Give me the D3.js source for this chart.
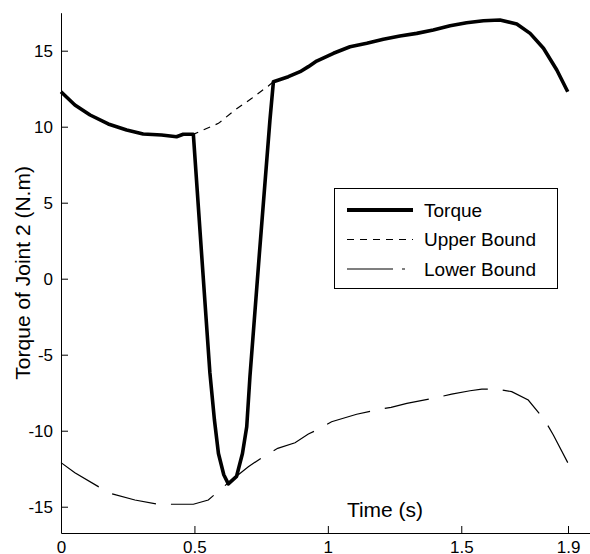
<!DOCTYPE html>
<html>
<head>
<meta charset="utf-8">
<script src="https://cdn.jsdelivr.net/npm/d3@7"></script>
<style>
  html, body { margin: 0; padding: 0; background: #fff; }
  svg { display: block; font-family: "Liberation Sans", Arial, Helvetica, sans-serif; }
</style>
</head>
<body>
<svg id="chart" width="590" height="554"></svg>
<script>
// ---- Data ----
const torqueTime  = [0, 0.052, 0.109, 0.177, 0.246, 0.308, 0.377, 0.433, 0.458, 0.496, 0.527, 0.558, 0.575, 0.590, 0.610, 0.627, 0.658, 0.680, 0.696, 0.708, 0.745, 0.783, 0.796, 0.852, 0.896, 0.927, 0.958, 1.021, 1.083, 1.146, 1.208, 1.270, 1.333, 1.395, 1.458, 1.520, 1.583, 1.645, 1.708, 1.758, 1.808, 1.858, 1.899];
const torqueValue = [12.3, 11.43, 10.77, 10.18, 9.78, 9.52, 9.45, 9.34, 9.5, 9.5, 1.6, -6.2, -9.3, -11.5, -12.9, -13.5, -13.0, -11.5, -9.74, -6.45, 2.0, 10.44, 12.96, 13.29, 13.62, 13.95, 14.32, 14.83, 15.26, 15.49, 15.75, 15.97, 16.14, 16.36, 16.64, 16.84, 16.97, 17.02, 16.76, 16.14, 15.16, 13.73, 12.3];

const upperTime  = [0, 0.052, 0.109, 0.177, 0.246, 0.308, 0.377, 0.433, 0.458, 0.496, 0.590, 0.652, 0.715, 0.777, 0.796, 0.852, 0.896, 0.927, 0.958, 1.021, 1.083, 1.146, 1.208, 1.270, 1.333, 1.395, 1.458, 1.520, 1.583, 1.645, 1.708, 1.758, 1.808, 1.858, 1.899];
const upperValue = [12.3, 11.43, 10.77, 10.18, 9.78, 9.52, 9.45, 9.34, 9.5, 9.5, 10.22, 11.1, 11.87, 12.68, 12.96, 13.29, 13.62, 13.95, 14.32, 14.83, 15.26, 15.49, 15.75, 15.97, 16.14, 16.36, 16.64, 16.84, 16.97, 17.02, 16.76, 16.14, 15.16, 13.73, 12.3];

const lowerTime  = [0, 0.052, 0.140, 0.192, 0.277, 0.358, 0.415, 0.496, 0.552, 0.581, 0.627, 0.702, 0.758, 0.812, 0.877, 0.927, 0.964, 1.014, 1.108, 1.180, 1.237, 1.296, 1.405, 1.464, 1.533, 1.577, 1.633, 1.689, 1.751, 1.814, 1.845, 1.899];
const lowerValue = [-12.1, -12.76, -13.68, -14.16, -14.56, -14.82, -14.84, -14.84, -14.56, -14.12, -13.42, -12.37, -11.71, -11.16, -10.79, -10.22, -9.91, -9.41, -8.92, -8.64, -8.46, -8.2, -7.83, -7.59, -7.37, -7.26, -7.26, -7.43, -7.98, -9.34, -10.28, -12.1];

const xTickValues = [0, 0.5, 1, 1.5, 1.9];
const xTickLabels = ["0", "0.5", "1", "1.5", "1.9"];
const yTickValues = [-15, -10, -5, 0, 5, 10, 15];
const yTickLabels = ["-15", "-10", "-5", "0", "5", "10", "15"];

const seriesNames = ["Torque", "Upper Bound", "Lower Bound"];
const xLabel = "Time (s)";
const yLabel = "Torque of Joint 2 (N.m)";

// ---- Layout ----
const svg = d3.select("#chart");
const plotLeft = 61, plotRight = 594.7, plotTop = 12.7, plotBottom = 533;

const x = d3.scaleLinear().domain([0, 2]).range([plotLeft, plotRight]);
const y = d3.scaleLinear().domain([-16.73, 17.5]).range([plotBottom, plotTop]);

const zip = (ts, vs) => ts.map((t, i) => [t, vs[i]]);
const line = d3.line().x(d => x(d[0])).y(d => y(d[1]));

// Lines
svg.append("path")
  .attr("d", line(zip(lowerTime, lowerValue)))
  .attr("fill", "none").attr("stroke", "#000").attr("stroke-width", 1.2)
  .attr("stroke-dasharray", "45,15");

svg.append("path")
  .attr("d", line(zip(upperTime, upperValue)))
  .attr("fill", "none").attr("stroke", "#000").attr("stroke-width", 1.2)
  .attr("stroke-dasharray", "7,6");

svg.append("path")
  .attr("d", line(zip(torqueTime, torqueValue)))
  .attr("fill", "none").attr("stroke", "#000").attr("stroke-width", 3.6)
  .attr("stroke-linejoin", "round").attr("stroke-linecap", "butt");

// Axes
const xAxis = d3.axisBottom(x)
  .tickValues(xTickValues)
  .tickFormat((d, i) => xTickLabels[i])
  .tickSizeInner(-7).tickSizeOuter(0).tickPadding(8);
const gx = svg.append("g").attr("transform", `translate(0,${plotBottom})`).call(xAxis);

const yAxis = d3.axisLeft(y)
  .tickValues(yTickValues)
  .tickFormat((d, i) => yTickLabels[i])
  .tickSizeInner(-7).tickSizeOuter(0).tickPadding(8);
const gy = svg.append("g").attr("transform", `translate(${plotLeft},0)`).call(yAxis);

[gx, gy].forEach(g => {
  g.select(".domain").attr("stroke", "#000").attr("stroke-width", 1);
  g.selectAll(".tick line").attr("stroke", "#000").attr("stroke-width", 1);
  g.selectAll(".tick text").attr("fill", "#000").style("font-size", "17px")
    .style("font-family", "'Liberation Sans', Arial, Helvetica, sans-serif");
});
gx.selectAll(".tick text").attr("dy", "0.7em");

// Axis labels
svg.append("text")
  .attr("x", 385).attr("y", 517)
  .attr("text-anchor", "middle")
  .style("font-size", "21px").attr("fill", "#000")
  .text(xLabel);

svg.append("text")
  .attr("transform", `translate(30,${(plotTop + plotBottom) / 2}) rotate(-90)`)
  .attr("text-anchor", "middle")
  .style("font-size", "21px").attr("fill", "#000")
  .text(yLabel);

// Legend
const lg = svg.append("g");
lg.append("rect")
  .attr("x", 334.5).attr("y", 188.5).attr("width", 223).attr("height", 100)
  .attr("fill", "#fff").attr("stroke", "#000").attr("stroke-width", 1);

const legendStyles = [
  { w: 4, dash: null },
  { w: 1.2, dash: "7,6" },
  { w: 1.2, dash: "46,9,3,9" }
];
seriesNames.forEach((name, i) => {
  const cy = 210 + i * 29.5;
  lg.append("line")
    .attr("x1", 347).attr("x2", 413).attr("y1", cy).attr("y2", cy)
    .attr("stroke", "#000").attr("stroke-width", legendStyles[i].w)
    .attr("stroke-dasharray", legendStyles[i].dash);
  lg.append("text")
    .attr("x", 424).attr("y", cy + 6.5)
    .style("font-size", "19px").attr("fill", "#000")
    .text(name);
});
</script>
</body>
</html>
